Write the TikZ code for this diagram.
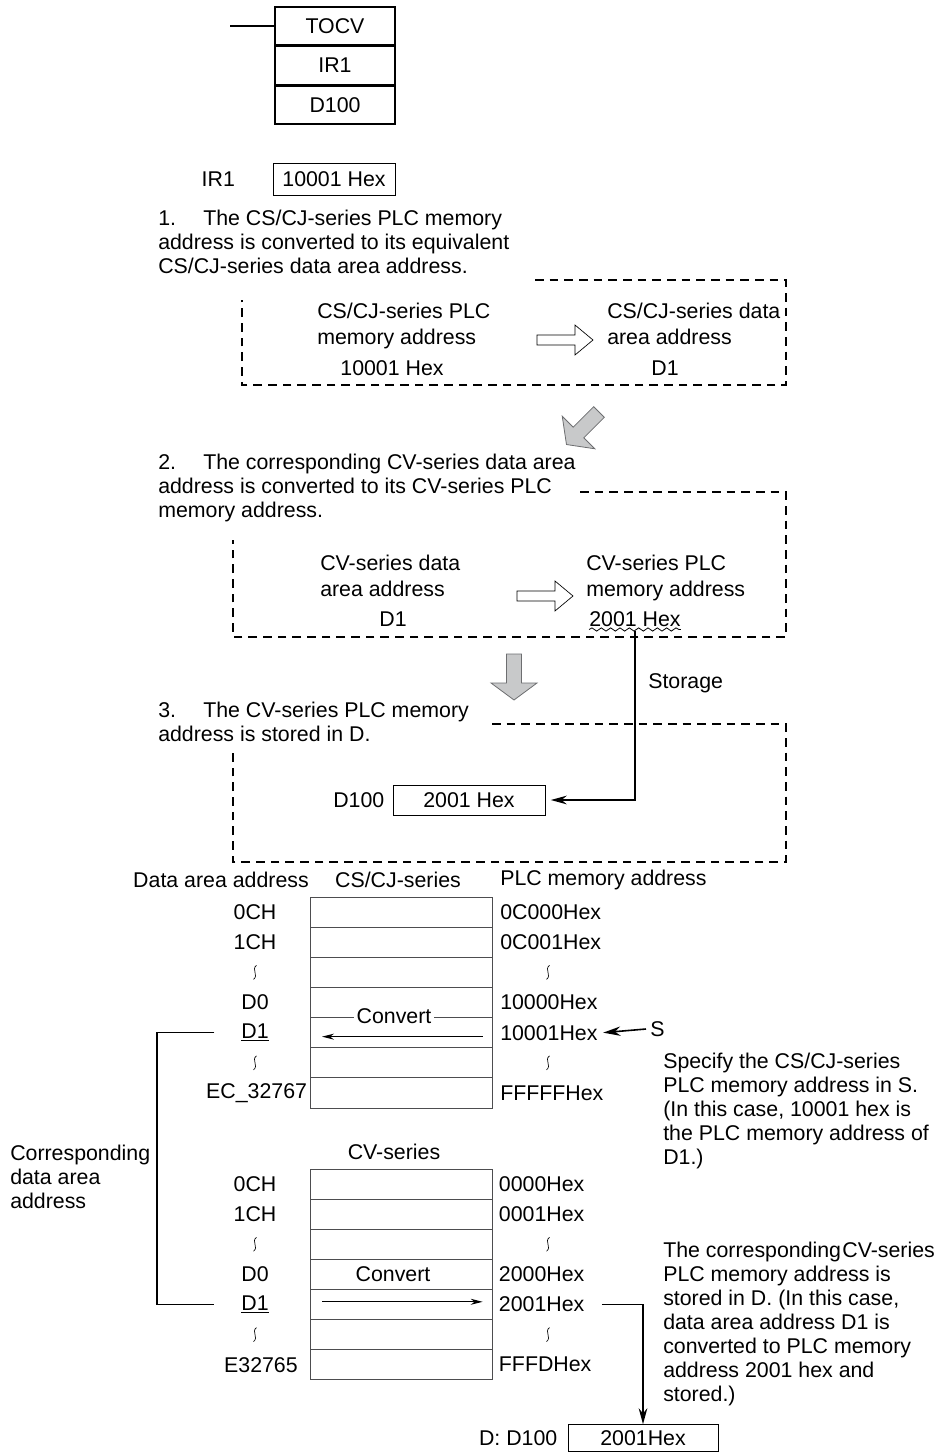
\documentclass[tikz,border=0pt]{standalone}
\usepackage{fontspec}
\setmainfont{Liberation Sans}
\usetikzlibrary{arrows.meta,positioning,decorations.pathmorphing}
\definecolor{arrfill}{HTML}{C8C9CA}
\definecolor{arrline}{HTML}{6D6E70}
\definecolor{cellline}{HTML}{4D4D4F}
\tikzset{
  >={Stealth[length=12pt,width=6.5pt]},
  font=\fontsize{16pt}{18pt}\selectfont,
  ladder/.style={draw,line width=1.1pt,minimum width=90pt,minimum height=28.5pt,inner sep=0pt},
  valbox/.style={draw,line width=0.7pt,minimum height=24pt,inner sep=0pt},
  para/.style={anchor=north west,align=left,inner sep=0pt},
  boxtxt/.style={anchor=north west,align=left,inner sep=0pt,
                 font=\fontsize{16pt}{19.5pt}\selectfont},
  lbl/.style={inner sep=0pt},
  zone/.style={dash pattern=on 6.5pt off 4.5pt,line width=1.1pt},
  memcell/.style={draw=cellline,line width=0.7pt,minimum width=136.5pt,
                  minimum height=22.6pt,inner sep=0pt,outer sep=0pt},
  link/.style={line width=1pt},
  conv/.style={->,line width=0.9pt,>={Stealth[length=9pt,width=4.5pt]}},
  pics/hollow/.style={code={
    \draw[line width=0.5pt,fill=white] (-28,-5) -- (10,-5) -- (10,-15)
      -- (28,0) -- (10,15) -- (10,5) -- (-28,5) -- cycle;}},
  pics/fat/.style={code={
    \draw[draw=arrline,fill=arrfill,line width=0.6pt] (0,-7.5) -- (29,-7.5) -- (29,-23)
      -- (46,0) -- (29,23) -- (29,7.5) -- (0,7.5) -- cycle;}},
  pics/squig/.style={code={
    \draw[line width=0.5pt] (1.5,-7) .. controls (-4,-3) and (4,3) .. (-1.5,7);}},
}

\begin{document}
\begin{tikzpicture}[x=0.75pt,y=-0.75pt]
  \useasboundingbox (0,0) rectangle (935,1452);

  % instruction
  \coordinate (rung) at (230,26);
  \node[ladder] (tocv) at (335,26) {TOCV};
  \node[ladder,below=0pt of tocv] (srcop) {IR1};
  \node[ladder,below=0pt of srcop] (dstop) {D100};
  \draw[line width=1.1pt] (rung) -- (tocv.west);

  \node[valbox,minimum width=91.5pt] (irval) at (334,179) {10001 Hex};
  \node[lbl,left=28pt of irval] (irlbl) {IR1};

  % step 1
  \node[para] (step1) at (158,210) {\makebox[33.75pt][l]{1.}The CS/CJ-series PLC memory\\
    address is converted to its equivalent\\CS/CJ-series data area address.};
  \draw[zone] (535,280) -- (786,280) -- (786,385) -- (242,385) -- (242,300);
  \node[boxtxt] (plc1) at (317,303) {CS/CJ-series PLC\\memory address};
  \node[lbl] (plc1v) at (392,368) {10001 Hex};
  \pic at (565,340) {hollow};
  \node[boxtxt] (area1) at (607,303) {CS/CJ-series data\\area address};
  \node[lbl] (area1v) at (665,368) {D1};

  \pic[rotate=225] at (599,412) {fat};

  % step 2
  \node[para] (step2) at (158,454) {\makebox[33.75pt][l]{2.}The corresponding CV-series data area\\
    address is converted to its CV-series PLC\\memory address.};
  \draw[zone] (580,492) -- (786,492) -- (786,637) -- (233,637) -- (233,540);
  \node[boxtxt] (area2) at (320,555) {CV-series data\\area address};
  \node[lbl] (area2v) at (393,619) {D1};
  \pic at (545,596) {hollow};
  \node[boxtxt] (plc2) at (586,555) {CV-series PLC\\memory address};
  \node[lbl] (plc2v) at (635,619) {2001 Hex};
  \draw[line width=0.6pt,decorate,decoration={snake,amplitude=1.2pt,segment length=7pt}]
    ([yshift=-2pt]plc2v.south west) -- ([yshift=-2pt]plc2v.south east);

  \pic[rotate=270] at (514,654) {fat};

  % step 3
  \node[para] (step3) at (158,702) {\makebox[33.75pt][l]{3.}The CV-series PLC memory\\
    address is stored in D.};
  \draw[zone] (492,724) -- (786,724) -- (786,862) -- (233,862) -- (233,752);
  \node[valbox,minimum width=114pt,minimum height=22.5pt] (d100v) at (469,800) {2001 Hex};
  \node[lbl,left=6pt of d100v] (d100l) {D100};
  \node[lbl,anchor=west] (stor) at (648,683) {Storage};
  \draw[link,->,shorten >=4pt] ([yshift=-3pt]plc2v.south) |- (d100v.east);

  % CS/CJ-series memory map
  \coordinate (lcol) at (255,0);
  \coordinate (rcol) at (548,0);
  \node[lbl] (hdata) at (221,880) {Data area address};
  \node[lbl] (hcs) at (398,880) {CS/CJ-series};
  \node[lbl,anchor=west] (hplc) at (500,880) {PLC memory address};
  \foreach \i in {1,...,7}
    \node[memcell] (cs\i) at (401,{881.9+30.15*\i}) {};
  \node[lbl] (csa1) at (cs1 -| lcol) {0CH};
  \node[lbl] (csa2) at (cs2 -| lcol) {1CH};
  \node[lbl] (csa4) at (cs4 -| lcol) {D0};
  \node[lbl] (csa5) at (cs5 -| lcol) {\underline{D1}};
  \node[lbl,anchor=east] (csa7) at ([xshift=-2pt]cs7.west) {EC\_32767};
  \pic at (cs3 -| lcol) {squig};
  \pic at (cs6 -| lcol) {squig};
  \node[lbl,anchor=west] (csm1) at ([xshift=6pt]cs1.east) {0C000Hex};
  \node[lbl,anchor=west] (csm2) at ([xshift=6pt]cs2.east) {0C001Hex};
  \node[lbl,anchor=west] (csm4) at ([xshift=6pt]cs4.east) {10000Hex};
  \node[lbl,anchor=west] (csm5) at ([xshift=6pt]cs5.east) {10001Hex};
  \node[lbl,anchor=west] (csm7) at ([xshift=6pt]cs7.east) {FFFFFHex};
  \pic at (cs3 -| rcol) {squig};
  \pic at (cs6 -| rcol) {squig};
  \node[lbl,fill=white,inner xsep=2pt] (csconv) at (394,1016) {Convert};
  \draw[conv] ([xshift=-7pt,yshift=-3pt]cs5.east) -- ([xshift=9pt,yshift=-3pt]cs5.west);

  \node[lbl,anchor=west] (sreg) at (650,1029) {S};
  \draw[->,line width=1.2pt,>={Stealth[length=13pt,width=7pt]}]
    ([xshift=-3pt]sreg.west) -- ([xshift=4pt]csm5.east);
  \node[para] (snote) at (663,1053) {Specify the CS/CJ-series\\PLC memory address in S.\\
    (In this case, 10001 hex is\\the PLC memory address of\\D1.)};

  \node[para] (corr) at (10,1145) {Corresponding\\data area\\address};

  % CV-series memory map
  \node[lbl] (hcv) at (394,1152) {CV-series};
  \foreach \i in {1,...,7}
    \node[memcell] (cv\i) at (401,{1153.95+30.1*\i}) {};
  \node[lbl] (cva1) at (cv1 -| lcol) {0CH};
  \node[lbl] (cva2) at (cv2 -| lcol) {1CH};
  \node[lbl] (cva4) at (cv4 -| lcol) {D0};
  \node[lbl] (cva5) at (cv5 -| lcol) {\underline{D1}};
  \node[lbl,anchor=east] (cva7) at ([xshift=-9pt]cv7.west) {E32765};
  \pic at (cv3 -| lcol) {squig};
  \pic at (cv6 -| lcol) {squig};
  \node[lbl,anchor=west] (cvm1) at ([xshift=5pt]cv1.east) {0000Hex};
  \node[lbl,anchor=west] (cvm2) at ([xshift=5pt]cv2.east) {0001Hex};
  \node[lbl,anchor=west] (cvm4) at ([xshift=5pt]cv4.east) {2000Hex};
  \node[lbl,anchor=west] (cvm5) at ([xshift=5pt]cv5.east) {2001Hex};
  \node[lbl,anchor=west] (cvm7) at ([xshift=5pt]cv7.east) {FFFDHex};
  \pic at (cv3 -| rcol) {squig};
  \pic at (cv6 -| rcol) {squig};
  \node[lbl] (cvconv) at (393,1274) {Convert};
  \draw[conv] ([xshift=9pt,yshift=2pt]cv5.west) -- ([xshift=-7pt,yshift=2pt]cv5.east);

  \coordinate (brk) at (157,0);
  \draw[link] ([xshift=-20pt]csa5.west) -| (brk |- cva5.west) -- ([xshift=-20pt]cva5.west);

  \node[valbox,minimum width=112.5pt,minimum height=20pt] (res) at (643,1438) {2001Hex};
  \node[lbl,left=7.5pt of res] (resl) {D: D100};
  \draw[link,->] ([xshift=13pt]cvm5.east) -| (res.north);
  \node[para] (cvnote) at (663,1242) {The corresponding\hspace{-3.5pt} CV-series\\PLC memory address is\\
    stored in D. (In this case,\\data area address D1 is\\converted to PLC memory\\
    address 2001 hex and\\stored.)};
\end{tikzpicture}
\end{document}
